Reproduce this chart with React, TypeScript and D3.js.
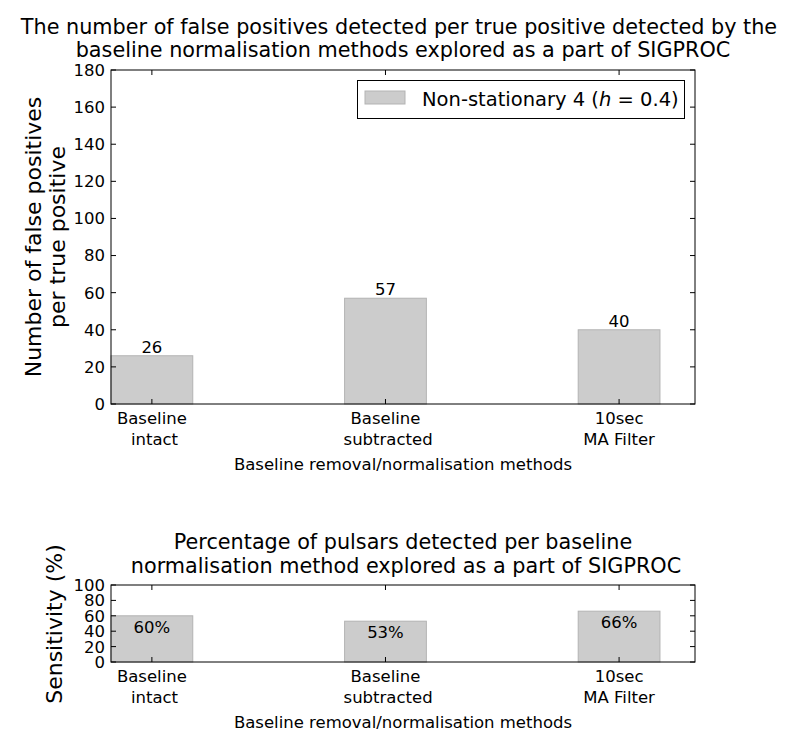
import React from "react";
import * as d3 from "d3";

const categories = ["Baseline\n intact", "Baseline\n subtracted", "10sec\nMA Filter"];
const falsePositives = [26, 57, 40];
const sensitivity = [60, 53, 66];
const topTicks = [0, 20, 40, 60, 80, 100, 120, 140, 160, 180];
const bottomTicks = [0, 20, 40, 60, 80, 100];

const FONT = "DejaVu Sans";
const W = 800, H = 741;
const barWidth = 0.35;
const TICK_FS = 16.5;
const TITLE_FS = 20.75;
const YLABEL_FS = 22;

function Axes({ top, bottom, yMax, ticks, values, labelFn, labelInside }: any) {
  const x = d3.scaleLinear().domain([0, 2.5]).range([111, 695]);
  const y = d3.scaleLinear().domain([0, yMax]).range([bottom, top]);
  const tickLen = 5;
  return (
    <g>
      {values.map((v: number, i: number) => (
        <rect key={i} x={x(i)} y={y(v)} width={x(i + barWidth) - x(i)} height={y(0) - y(v)}
          fill="#cccccc" stroke="#b3b3b3" strokeWidth={1} />
      ))}
      {values.map((v: number, i: number) => (
        <text key={"l" + i} x={x(i + barWidth / 2)} y={labelInside ? y(v) + 17 : y(v) - 3}
          textAnchor="middle" fontSize={TICK_FS} fontFamily={FONT} fill="#000">{labelFn(v)}</text>
      ))}
      <rect x={x(0)} y={top} width={x(2.5) - x(0)} height={bottom - top} fill="none" stroke="#000" strokeWidth={1} />
      {ticks.map((t: number) => (
        <g key={"y" + t}>
          <line x1={x(0)} x2={x(0) + tickLen} y1={y(t)} y2={y(t)} stroke="#000" />
          <line x1={x(2.5)} x2={x(2.5) - tickLen} y1={y(t)} y2={y(t)} stroke="#000" />
          <text x={x(0) - 6} y={y(t)} dy="0.36em" textAnchor="end" fontSize={TICK_FS} fontFamily={FONT}>{t}</text>
        </g>
      ))}
      {categories.map((c, i) => {
        const cx = x(i + barWidth / 2);
        return (
          <g key={"x" + i}>
            <line x1={cx} x2={cx} y1={bottom} y2={bottom - tickLen} stroke="#000" />
            <line x1={cx} x2={cx} y1={top} y2={top + tickLen} stroke="#000" />
            {c.split("\n").map((ln, j) => (
              <text key={j} x={cx} y={bottom + 20 + j * 21} textAnchor="middle" fontSize={TICK_FS}
                fontFamily={FONT} style={{ whiteSpace: "pre" }}>{ln}</text>
            ))}
          </g>
        );
      })}
      <text x={(x(0) + x(2.5)) / 2} y={bottom + 66} textAnchor="middle" fontSize={TICK_FS} fontFamily={FONT}>
        Baseline removal/normalisation methods
      </text>
    </g>
  );
}

export default function App() {
  return (
    <svg width={W} height={H} style={{ position: "absolute", left: 0, top: 0, background: "#fff" }}>
      <rect width={W} height={H} fill="#fff" />
      <text x={399} y={34} textAnchor="middle" fontSize={TITLE_FS} fontFamily={FONT}>
        The number of false positives detected per true positive detected by the
      </text>
      <text x={403} y={57} textAnchor="middle" fontSize={TITLE_FS} fontFamily={FONT}>
        baseline normalisation methods explored as a part of SIGPROC
      </text>
      <Axes top={70} bottom={404} yMax={180} ticks={topTicks} values={falsePositives}
        labelFn={(v: number) => String(v)} labelInside={false} />
      <g transform="translate(41,237) rotate(-90)">
        <text x={0} y={0} textAnchor="middle" fontSize={YLABEL_FS} fontFamily={FONT}>Number of false positives</text>
        <text x={0} y={24} textAnchor="middle" fontSize={YLABEL_FS} fontFamily={FONT}>per true positive</text>
      </g>
      <g>
        <rect x={357.5} y={80.5} width={327} height={38} fill="#fff" stroke="#000" />
        <rect x={365} y={91} width={40} height={13} fill="#cccccc" stroke="#b3b3b3" />
        <text x={422} y={106} fontSize={19.5} fontFamily={FONT}>
          Non-stationary 4 (<tspan fontStyle="italic">h</tspan> = 0.4)
        </text>
      </g>

      <text x={403} y={549} textAnchor="middle" fontSize={TITLE_FS} fontFamily={FONT}>
        Percentage of pulsars detected per baseline
      </text>
      <text x={406} y={573} textAnchor="middle" fontSize={TITLE_FS} fontFamily={FONT}>
        normalisation method explored as a part of SIGPROC
      </text>
      <Axes top={585} bottom={662} yMax={100} ticks={bottomTicks} values={sensitivity}
        labelFn={(v: number) => v + "%"} labelInside={true} />
      <g transform="translate(62,624) rotate(-90)">
        <text x={0} y={0} textAnchor="middle" fontSize={YLABEL_FS} fontFamily={FONT}>Sensitivity (%)</text>
      </g>
    </svg>
  );
}
